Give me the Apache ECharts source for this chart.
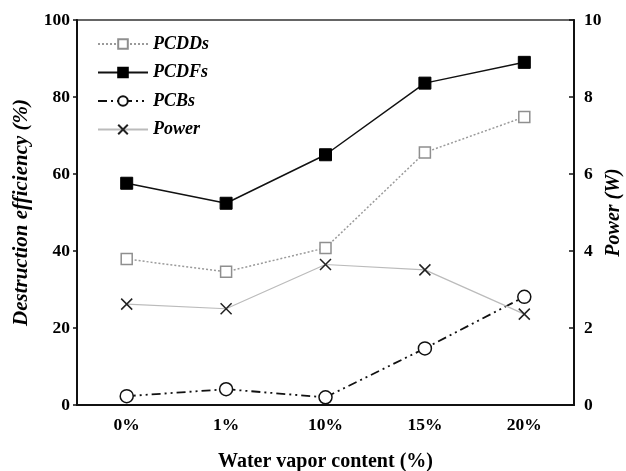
<!DOCTYPE html>
<html>
<head>
<meta charset="utf-8">
<script src="https://cdn.jsdelivr.net/npm/echarts@6/dist/echarts.min.js"></script>
<style>
  html, body { margin: 0; padding: 0; background: #fff; }
  #chart { width: 626px; height: 471px; }
</style>
</head>
<body>
<div id="chart"></div>
<script>
// Water vapor content categories
const categories = ['0%', '1%', '10%', '15%', '20%'];
// Destruction efficiency (%)
const pcdds = [37.9, 34.6, 40.8, 65.6, 74.8];
const pcdfs = [57.6, 52.4, 65.0, 83.6, 89.0];
const pcbs = [2.3, 4.1, 2.0, 14.7, 28.1];
// Discharge power (W)
const power = [2.62, 2.50, 3.65, 3.51, 2.36];

const serif = 'Liberation Serif';
const crossPath = 'path://M0,0L10,10M10,0L0,10';

const chart = echarts.init(document.getElementById('chart'), null, { renderer: 'canvas' });
chart.setOption({
  animation: false,
  backgroundColor: '#fff',
  grid: {
    left: 77, right: 52, top: 20, bottom: 66,
    outerBoundsMode: 'none',
    show: true, borderColor: '#333', borderWidth: 1.5, backgroundColor: 'transparent'
  },
  legend: {
    left: 92, top: 30, orient: 'vertical',
    itemWidth: 50, itemHeight: 12, itemGap: 10.5,
    textStyle: { fontFamily: serif, fontSize: 18, fontWeight: 'bold', fontStyle: 'italic', color: '#000' },
    data: ['PCDDs', 'PCDFs', 'PCBs', 'Power']
  },
  xAxis: {
    type: 'category',
    data: categories,
    boundaryGap: true,
    name: 'Water vapor content (%)',
    nameLocation: 'middle',
    nameGap: 47,
    nameMoveOverlap: false,
    nameTextStyle: { fontFamily: serif, fontSize: 20, fontWeight: 'bold', color: '#000' },
    axisLine: { lineStyle: { color: '#111', width: 2 } },
    axisTick: { inside: true, length: 5, lineStyle: { color: '#111', width: 1.5 } },
    axisLabel: { fontFamily: serif, fontSize: 17.5, fontWeight: 'bold', color: '#000', margin: 11 }
  },
  yAxis: [
    {
      type: 'value', min: 0, max: 100, interval: 20,
      name: 'Destruction efficiency (%)',
      nameLocation: 'middle', nameGap: 45,
      nameMoveOverlap: false,
      nameTextStyle: { fontFamily: serif, fontSize: 21, fontWeight: 'bold', fontStyle: 'italic', color: '#000' },
      axisLine: { show: true, lineStyle: { color: '#111', width: 2 } },
      axisTick: { show: true, length: 4, lineStyle: { color: '#111', width: 1.5 } },
      axisLabel: { fontFamily: serif, fontSize: 17.5, fontWeight: 'bold', color: '#000', margin: 7 },
      splitLine: { show: false }
    },
    {
      type: 'value', min: 0, max: 10, interval: 2, position: 'right',
      name: 'Power (W)',
      nameLocation: 'middle', nameGap: 30, nameRotate: 90,
      nameMoveOverlap: false,
      nameTextStyle: { fontFamily: serif, fontSize: 20, fontWeight: 'bold', fontStyle: 'italic', color: '#000' },
      axisLine: { show: true, lineStyle: { color: '#111', width: 2 } },
      axisTick: { show: true, inside: true, length: 5, lineStyle: { color: '#111', width: 1.5 } },
      axisLabel: { fontFamily: serif, fontSize: 17.5, fontWeight: 'bold', color: '#000', margin: 10 },
      splitLine: { show: false }
    }
  ],
  series: [
    {
      name: 'PCDDs', type: 'line', data: pcdds, yAxisIndex: 0,
      symbol: 'rect', symbolSize: 11,
      lineStyle: { color: '#9a9a9a', width: 1.5, type: [2, 2] },
      itemStyle: { color: '#fff', borderColor: '#8f8f8f', borderWidth: 1.5 }
    },
    {
      name: 'PCDFs', type: 'line', data: pcdfs, yAxisIndex: 0,
      symbol: 'rect', symbolSize: 12,
      lineStyle: { color: '#111', width: 1.5 },
      itemStyle: { color: '#000', borderColor: '#000', borderWidth: 1 }
    },
    {
      name: 'PCBs', type: 'line', data: pcbs, yAxisIndex: 0,
      symbol: 'circle', symbolSize: 13,
      lineStyle: { color: '#111', width: 1.8, type: [9, 4, 2, 4, 2, 4] },
      itemStyle: { color: '#fff', borderColor: '#111', borderWidth: 1.5 }
    },
    {
      name: 'Power', type: 'line', data: power, yAxisIndex: 1,
      symbol: crossPath, symbolSize: 11,
      lineStyle: { color: '#bbbbbb', width: 1.2 },
      itemStyle: { color: 'none', borderColor: '#222', borderWidth: 1.5 }
    }
  ]
});
</script>
</body>
</html>
